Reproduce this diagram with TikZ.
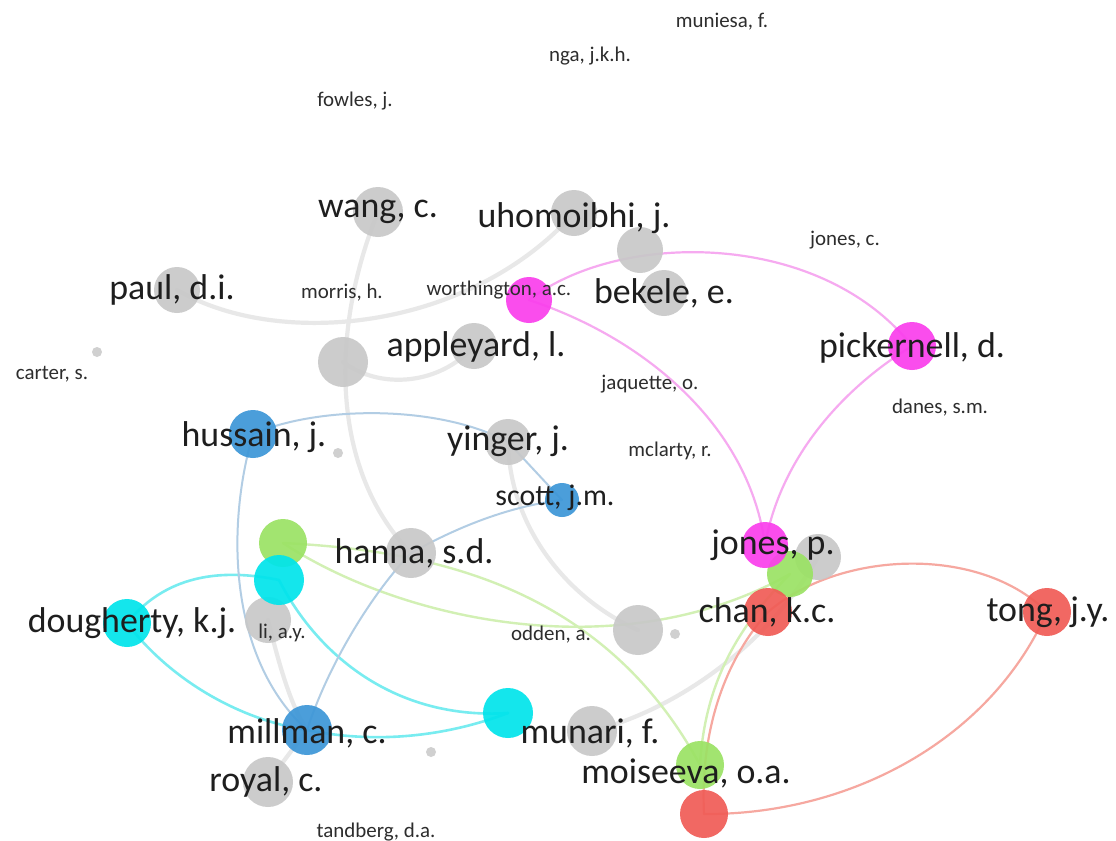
\documentclass[tikz,border=0pt]{standalone}
\usepackage{fontspec}
\setmainfont{Carlito}
\usetikzlibrary{backgrounds}
\definecolor{ngray}{RGB}{200,200,200}
\definecolor{nmag}{RGB}{250,62,236}
\definecolor{nblue}{RGB}{60,150,215}
\definecolor{ncyan}{RGB}{0,228,235}
\definecolor{ngreen}{RGB}{155,226,100}
\definecolor{nred}{RGB}{240,92,86}
\definecolor{egray}{RGB}{232,232,232}
\definecolor{emag}{RGB}{246,170,240}
\definecolor{eblue}{RGB}{178,205,228}
\definecolor{ecyan}{RGB}{120,236,240}
\definecolor{egreen}{RGB}{210,240,180}
\definecolor{ered}{RGB}{246,168,160}
\definecolor{lblc}{RGB}{30,30,30}
\definecolor{lblc2}{RGB}{45,45,45}
\tikzset{
  vnode/.style={circle, inner sep=0pt, draw=none, minimum size=46bp, fill opacity=0.92},
  vgray/.style={vnode, fill=ngray},
  vmag/.style={vnode, fill=nmag},
  vblue/.style={vnode, fill=nblue},
  vcyan/.style={vnode, fill=ncyan},
  vgreen/.style={vnode, fill=ngreen},
  vred/.style={vnode, fill=nred},
  dotnode/.style={circle, inner sep=0pt, draw=none, minimum size=10bp, fill=ngray!85},
  biglbl/.style={text=lblc, inner sep=0pt, font=\fontsize{36}{40}\selectfont},
  midlbl/.style={text=lblc, inner sep=0pt, font=\fontsize{30}{34}\selectfont},
  smalllbl/.style={text=lblc2, inner sep=0pt, font=\fontsize{21}{24}\selectfont},
  gedge/.style={draw=egray, line width=4.2bp, line cap=round},
  magedge/.style={draw=emag, line width=2.2bp, line cap=round},
  blueedge/.style={draw=eblue, line width=2bp, line cap=round},
  cyanedge/.style={draw=ecyan, line width=2.6bp, line cap=round},
  greenedge/.style={draw=egreen, line width=2.4bp, line cap=round},
  rededge/.style={draw=ered, line width=2.2bp, line cap=round}
}
\begin{document}
\begin{tikzpicture}[x=1bp,y=-1bp]
\useasboundingbox (0,0) rectangle (1116,841);
% gray nodes
\node[vgray, minimum size=50bp] (wang) at (378,212) {};
\node[vgray] (uho) at (574,213) {};
\node[vgray] (uhob) at (640,250) {};
\node[vgray] (bek) at (664,293) {};
\node[vgray] (paul) at (177,290) {};
\node[vgray, minimum size=50bp] (big) at (343,362) {};
\node[vgray] (app) at (474,346) {};
\node[vgray] (yin) at (508,442) {};
\node[vgray, minimum size=50bp] (hanna) at (411,553) {};
\node[vgray, minimum size=50bp] (odg) at (638,630) {};
\node[vgray] (jg) at (818,557) {};
\node[vgray, minimum size=50bp] (mung) at (592,731) {};
\node[vgray, minimum size=50bp] (royal) at (268,782) {};
% left cluster
\node[vgreen, minimum size=48bp] (greenA) at (283,543) {};
\node[vgray] (li) at (268,620) {};
\node[vcyan, minimum size=50bp] (cyanA) at (279,580) {};
\node[vcyan, minimum size=48bp] (doug) at (127,623) {};
\node[vblue, minimum size=48bp] (huss) at (253,434) {};
\node[vblue, minimum size=34bp] (scott) at (562,500) {};
\node[vblue, minimum size=50bp] (mill) at (307,730) {};
\node[vcyan, minimum size=50bp] (cyanM) at (508,713) {};
% magenta
\node[vmag] (worth) at (529,300) {};
\node[vmag, minimum size=48bp] (pick) at (912,346) {};
\node[vgreen] (greenJ) at (790,574) {};
\node[vmag] (jonesp) at (765,545) {};
% red / green
\node[vred, minimum size=48bp] (chan) at (768,612) {};
\node[vred, minimum size=48bp] (tong) at (1047,612) {};
\node[vgreen, minimum size=48bp] (greenM) at (700,765) {};
\node[vred, minimum size=48bp] (redM) at (704,814) {};
% small dots
\node[dotnode] (d1) at (97,352) {};
\node[dotnode] (d2) at (338,453) {};
\node[dotnode] (d3) at (675,634) {};
\node[dotnode] (d4) at (431,752) {};
% labels
\node[biglbl] (l-wang) at (378,212) {wang, c.};
\node[biglbl] (l-uho) at (574,218) {uhomoibhi, j.};
\node[biglbl] (l-paul) at (172,290) {paul, d.i.};
\node[biglbl] (l-bek) at (664,293) {bekele, e.};
\node[biglbl] (l-app) at (476,347) {appleyard, l.};
\node[biglbl] (l-pick) at (912,348) {pickernell, d.};
\node[biglbl] (l-huss) at (254,437) {hussain, j.};
\node[biglbl] (l-yin) at (508,441) {yinger, j.};
\node[midlbl] (l-scott) at (555,498) {scott, j.m.};
\node[biglbl] (l-hanna) at (414,553) {hanna, s.d.};
\node[biglbl] (l-jones) at (773,545) {jones, p.};
\node[biglbl] (l-chan) at (767,612) {chan, k.c.};
\node[biglbl] (l-tong) at (1048,612) {tong, j.y.};
\node[biglbl] (l-doug) at (132,623) {dougherty, k.j.};
\node[biglbl] (l-mill) at (307,733) {millman, c.};
\node[biglbl] (l-mun) at (590,733) {munari, f.};
\node[biglbl] (l-moi) at (686,773) {moiseeva, o.a.};
\node[biglbl] (l-royal) at (266,782) {royal, c.};
\node[smalllbl] (l-munie) at (722,22) {muniesa, f.};
\node[smalllbl] (l-nga) at (590,56) {nga, j.k.h.};
\node[smalllbl] (l-fowles) at (355,101) {fowles, j.};
\node[smalllbl] (l-jonesc) at (845,240) {jones, c.};
\node[smalllbl] (l-morris) at (342,293) {morris, h.};
\node[smalllbl] (l-worth) at (499,290) {worthington, a.c.};
\node[smalllbl] (l-carter) at (52,374) {carter, s.};
\node[smalllbl] (l-jaq) at (650,384) {jaquette, o.};
\node[smalllbl] (l-danes) at (940,408) {danes, s.m.};
\node[smalllbl] (l-mcl) at (670,451) {mclarty, r.};
\node[smalllbl] (l-li) at (282,633) {li, a.y.};
\node[smalllbl] (l-odden) at (551,635) {odden, a.};
\node[smalllbl] (l-tand) at (376,832) {tandberg, d.a.};
\begin{pgfonlayer}{background}
\fill[white] (0,0) rectangle (1116,841);
% gray edges
\draw[gedge] (paul.center) .. controls (280,350) and (470,330) .. (uho.center);
\draw[gedge] (wang.center) .. controls (330,330) and (330,470) .. (hanna.center);
\draw[gedge] (big.center) .. controls (380,390) and (440,385) .. (app.center);
\draw[gedge] (yin.center) .. controls (510,530) and (570,600) .. (odg.center);
\draw[gedge] (mung.center) .. controls (670,712) and (765,650) .. (jg.center);
\draw[gedge] (li.center) .. controls (278,660) and (290,705) .. (mill.center);
\draw[gedge] (mill.center) -- (royal.center);
% magenta
\draw[magedge] (worth.center) .. controls (620,230) and (820,230) .. (pick.center);
\draw[magedge] (worth.center) .. controls (650,340) and (750,430) .. (jonesp.center);
\draw[magedge] (pick.center) .. controls (840,390) and (780,460) .. (jonesp.center);
% red
\draw[rededge] (chan.center) .. controls (840,550) and (980,545) .. (tong.center);
\draw[rededge] (chan.center) .. controls (725,660) and (700,730) .. (redM.center);
\draw[rededge] (redM.center) .. controls (850,815) and (990,740) .. (tong.center);
% green
\draw[greenedge] (greenA.center) .. controls (400,620) and (620,670) .. (greenJ.center);
\draw[greenedge] (greenA.center) .. controls (420,550) and (600,580) .. (greenM.center);
\draw[greenedge] (greenM.center) .. controls (705,680) and (740,625) .. (greenJ.center);
% cyan
\draw[cyanedge] (doug.center) .. controls (170,570) and (230,570) .. (cyanA.center);
\draw[cyanedge] (doug.center) .. controls (170,680) and (240,720) .. (mill.center);
\draw[cyanedge] (cyanA.center) .. controls (320,660) and (400,720) .. (cyanM.center);
\draw[cyanedge] (mill.center) .. controls (380,745) and (450,735) .. (cyanM.center);
% blue
\draw[blueedge] (huss.center) .. controls (320,405) and (440,405) .. (yin.center);
\draw[blueedge] (huss.center) .. controls (225,530) and (230,660) .. (mill.center);
\draw[blueedge] (mill.center) .. controls (330,660) and (375,590) .. (hanna.center);
\draw[blueedge] (hanna.center) .. controls (470,520) and (520,505) .. (scott.center);
\draw[blueedge] (yin.center) -- (scott.center);
\end{pgfonlayer}
\end{tikzpicture}
\end{document}
